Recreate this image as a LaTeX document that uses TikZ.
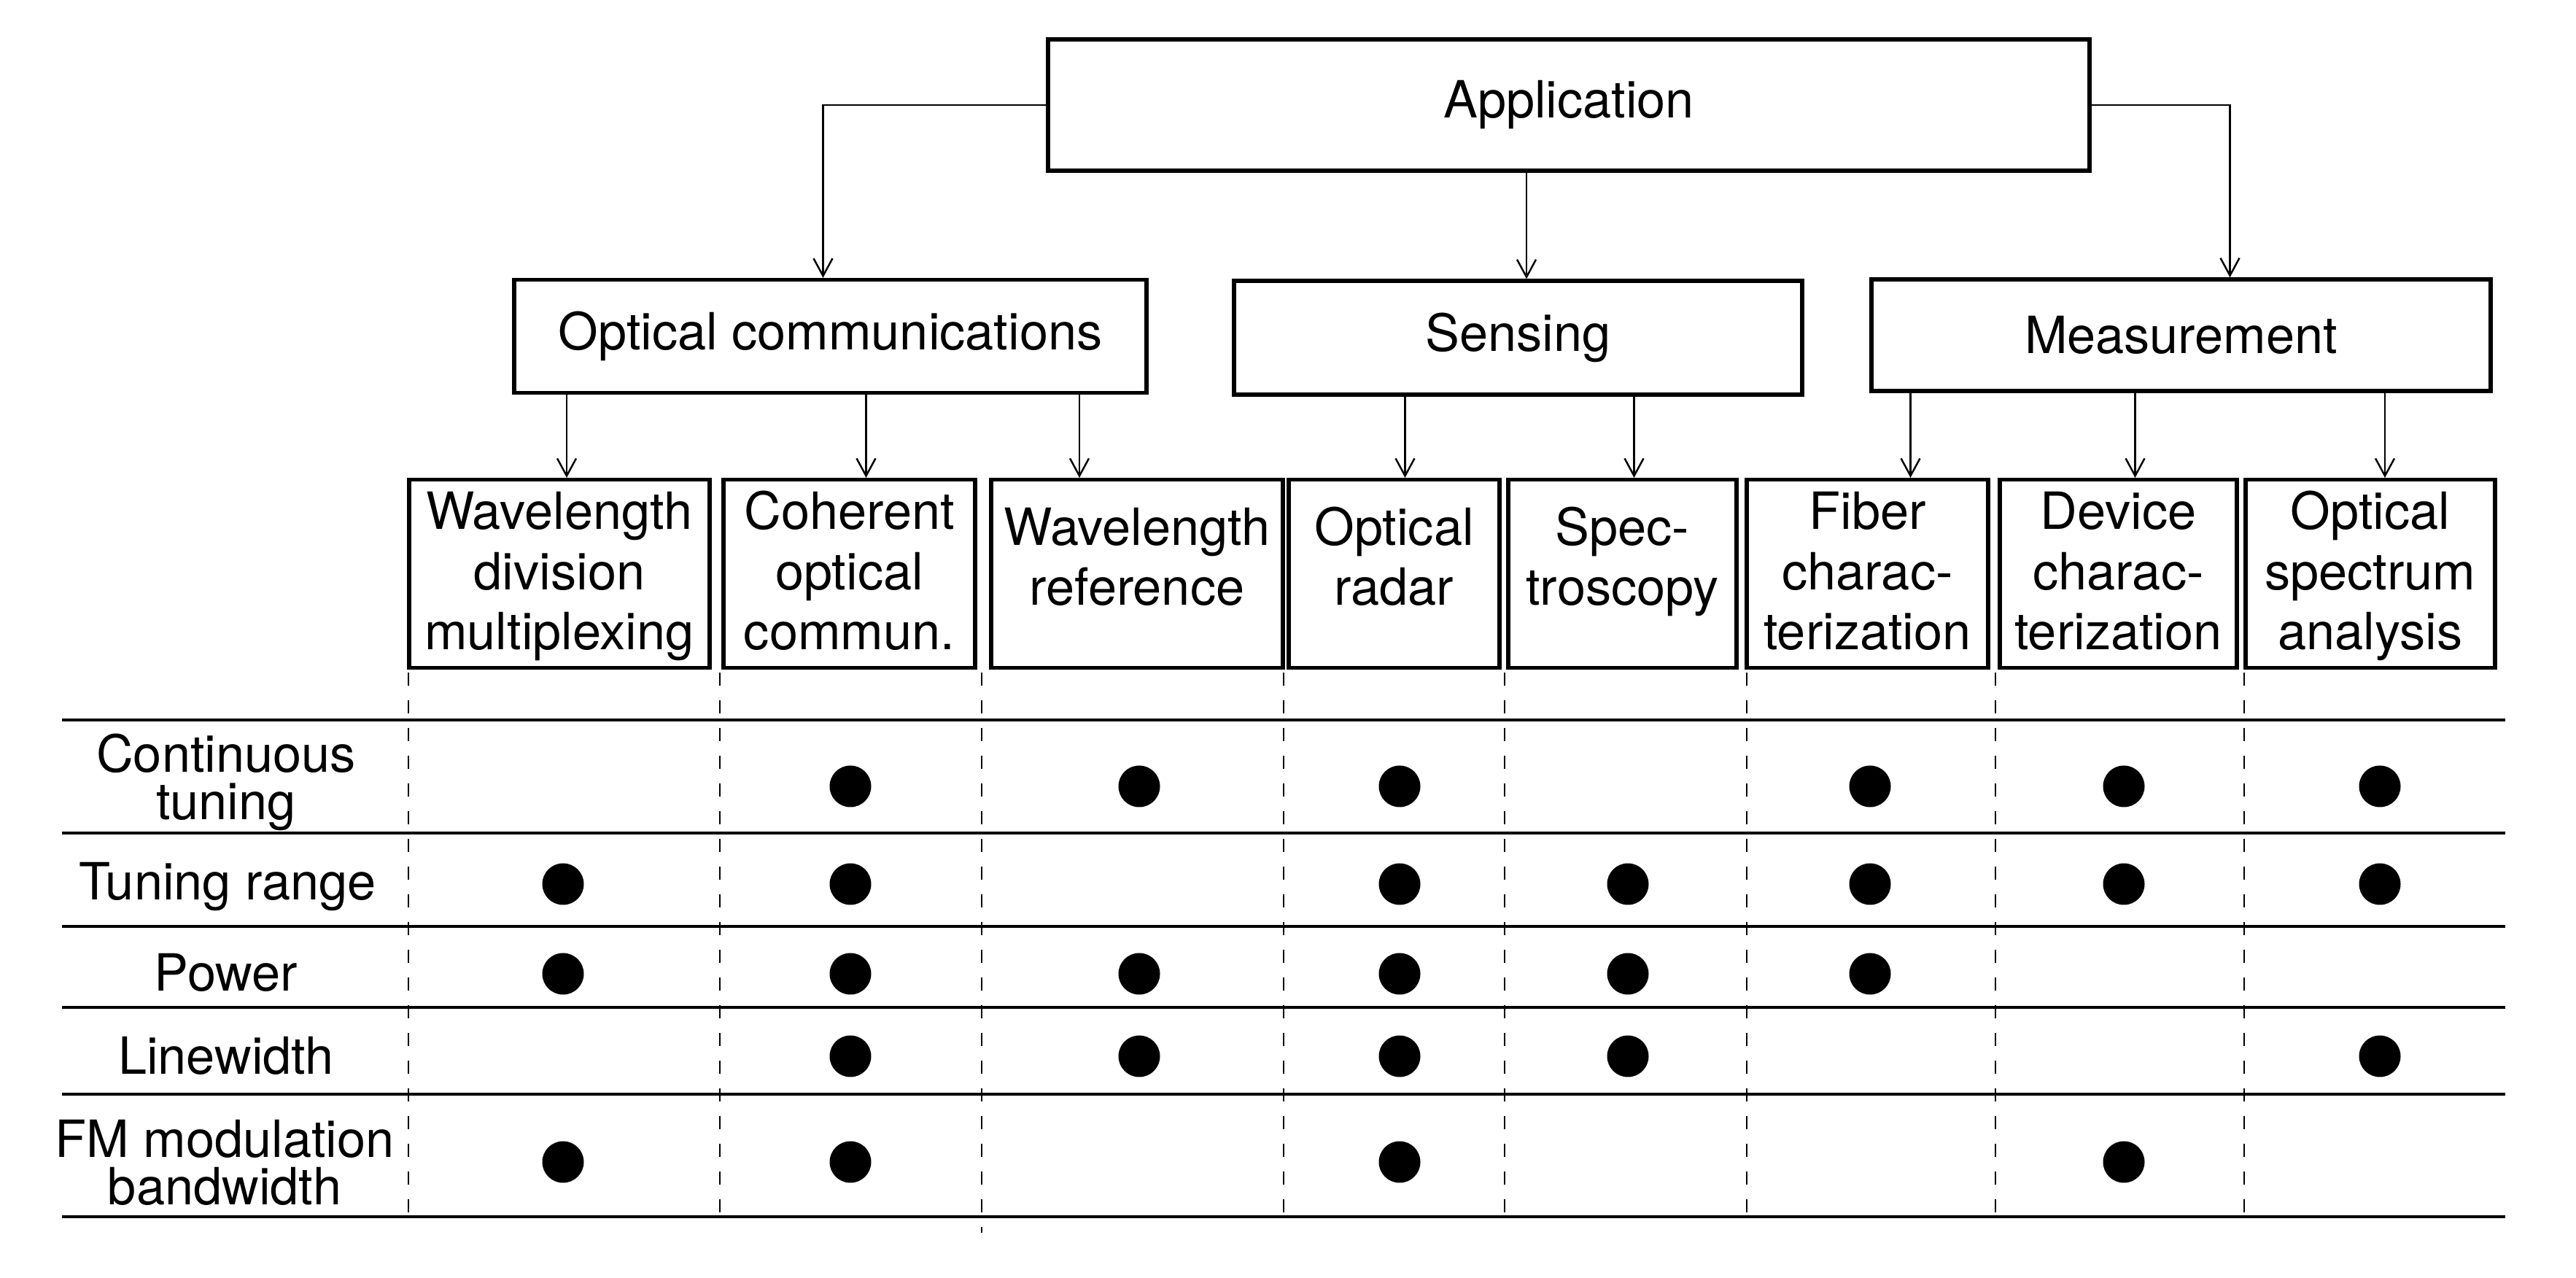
\documentclass[tikz,border=0pt]{standalone}
\usepackage{fontspec}
\setmainfont{TeX Gyre Heros}
\usetikzlibrary{arrows.meta}

\tikzset{
  catbox/.style={draw,line width=1.5pt,inner sep=0pt,align=center},
  leafthree/.style={catbox,anchor=north,text height=2.33cm,text depth=0.25cm},
  leaftwo/.style={catbox,anchor=north,text height=1.72cm,text depth=0.86cm},
  arr/.style={line width=0.7pt,-{Straight Barb[length=2.4mm,width=2.6mm]}},
  rowline/.style={line width=1.1pt},
  colsep/.style={line width=0.6pt,dash pattern=on 1.8mm off 2mm},
  rowlabel/.style={align=center,font=\fontsize{20}{18.5}\selectfont},
}

\begin{document}
\begin{tikzpicture}[font=\fontsize{20}{23.5}\selectfont]
	\useasboundingbox (0,0) rectangle (35.32,17.52);
	% tree
	\node[catbox,minimum width=14.28cm,minimum height=1.80cm] (app) at (21.51,16.08) {Application};
	\node[catbox,minimum width=8.67cm,minimum height=1.55cm] (oc) at (11.385,12.91) {Optical communications};
	\node[catbox,minimum width=7.79cm,minimum height=1.56cm] (sens) at (20.815,12.89) {Sensing};
	\node[catbox,minimum width=8.49cm,minimum height=1.53cm] (meas) at (29.905,12.925) {Measurement};
	\node[leafthree,minimum width=4.12cm] (wdm) at (7.67,10.97) {Wavelength\\division\\multiplexing};
	\node[leafthree,minimum width=3.45cm] (coh) at (11.645,10.97) {Coherent\\optical\\commun.};
	\node[leaftwo,minimum width=4.00cm] (wref) at (15.59,10.97) {Wavelength\\reference};
	\node[leaftwo,minimum width=2.89cm] (radar) at (19.115,10.97) {Optical\\radar};
	\node[leaftwo,minimum width=3.13cm] (spec) at (22.245,10.97) {Spec-\\troscopy};
	\node[leafthree,minimum width=3.31cm] (fiber) at (25.605,10.97) {Fiber\\charac-\\terization};
	\node[leafthree,minimum width=3.25cm] (device) at (29.045,10.97) {Device\\charac-\\terization};
	\node[leafthree,minimum width=3.42cm] (osa) at (32.50,10.97) {Optical\\spectrum\\analysis};
	\draw[arr] (app.west) -| ([xshift=-0.1cm]oc.north);
	\draw[arr] (app.east) -| ([xshift=0.67cm]meas.north);
	\draw[arr] ([xshift=-0.58cm]app.south) -- ([xshift=-0.58cm]app.south |- sens.north);
	\draw[arr] ([xshift=0.10cm]wdm.north |- oc.south) -- ([xshift=0.10cm]wdm.north);
	\draw[arr] ([xshift=0.23cm]coh.north |- oc.south) -- ([xshift=0.23cm]coh.north);
	\draw[arr] ([xshift=-0.79cm]wref.north |- oc.south) -- ([xshift=-0.79cm]wref.north);
	\draw[arr] ([xshift=0.15cm]radar.north |- sens.south) -- ([xshift=0.15cm]radar.north);
	\draw[arr] ([xshift=0.16cm]spec.north |- sens.south) -- ([xshift=0.16cm]spec.north);
	\draw[arr] ([xshift=0.59cm]fiber.north |- meas.south) -- ([xshift=0.59cm]fiber.north);
	\draw[arr] ([xshift=0.23cm]device.north |- meas.south) -- ([xshift=0.23cm]device.north);
	\draw[arr] ([xshift=0.20cm]osa.north |- meas.south) -- ([xshift=0.20cm]osa.north);
	% table
	\draw[rowline] (0.85,7.65) -- (34.35,7.65);
	\draw[rowline] (0.85,6.10) -- (34.35,6.10);
	\draw[rowline] (0.85,4.82) -- (34.35,4.82);
	\draw[rowline] (0.85,3.71) -- (34.35,3.71);
	\draw[rowline] (0.85,2.52) -- (34.35,2.52);
	\draw[rowline] (0.85,0.84) -- (34.35,0.84);
	\draw[colsep] (5.60,8.30) -- (5.60,0.84);
	\draw[colsep] (9.87,8.30) -- (9.87,0.84);
	\draw[colsep] (13.46,8.30) -- (13.46,0.62);
	\draw[colsep] (17.60,8.30) -- (17.60,0.84);
	\draw[colsep] (20.63,8.30) -- (20.63,0.84);
	\draw[colsep] (23.95,8.30) -- (23.95,0.84);
	\draw[colsep] (27.36,8.30) -- (27.36,0.84);
	\draw[colsep] (30.77,8.30) -- (30.77,0.84);
	\node[rowlabel] (ct) at (3.10,6.80) {Continuous\\tuning};
	\node[rowlabel] (tr) at (3.12,5.36) {Tuning range};
	\node[rowlabel] (pw) at (3.10,4.19) {Power};
	\node[rowlabel] (lw) at (3.10,3.05) {Linewidth};
	\node[rowlabel] (fm) at (3.08,1.58) {FM modulation\\bandwidth};
	\fill (11.66,6.74) circle (0.285) (15.62,6.74) circle (0.285) (19.19,6.74) circle (0.285) (25.64,6.74) circle (0.285) (29.12,6.74) circle (0.285) (32.63,6.74) circle (0.285);
	\fill (7.72,5.40) circle (0.285) (11.66,5.40) circle (0.285) (19.19,5.40) circle (0.285) (22.32,5.40) circle (0.285) (25.64,5.40) circle (0.285) (29.12,5.40) circle (0.285) (32.63,5.40) circle (0.285);
	\fill (7.72,4.17) circle (0.285) (11.66,4.17) circle (0.285) (15.62,4.17) circle (0.285) (19.19,4.17) circle (0.285) (22.32,4.17) circle (0.285) (25.64,4.17) circle (0.285);
	\fill (11.66,3.04) circle (0.285) (15.62,3.04) circle (0.285) (19.19,3.04) circle (0.285) (22.32,3.04) circle (0.285) (32.63,3.04) circle (0.285);
	\fill (7.72,1.59) circle (0.285) (11.66,1.59) circle (0.285) (19.19,1.59) circle (0.285) (29.12,1.59) circle (0.285);
\end{tikzpicture}
\end{document}
